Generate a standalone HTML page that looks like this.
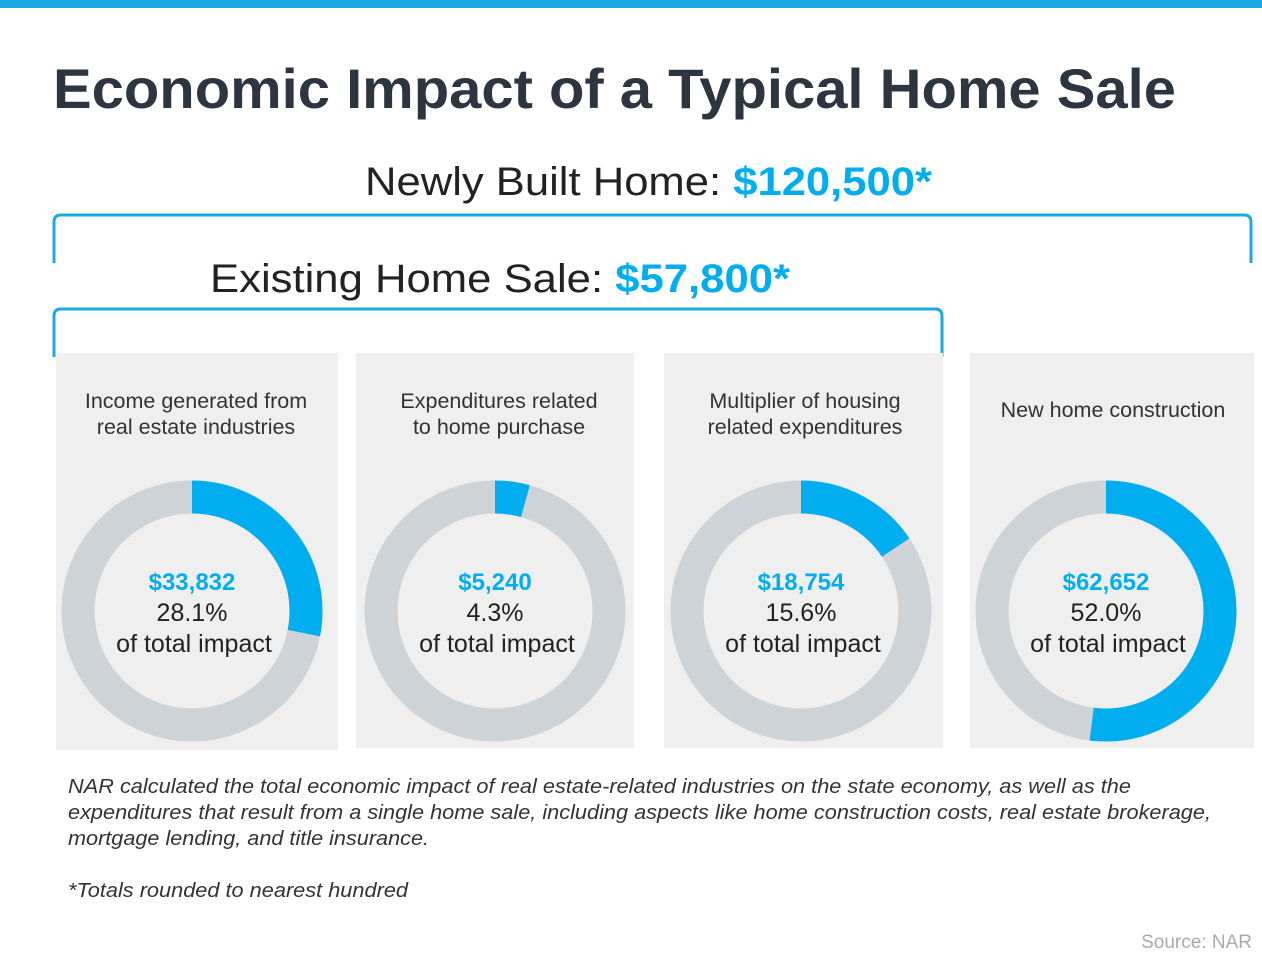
<!DOCTYPE html>
<html><head><meta charset="utf-8"><style>
html,body{margin:0;padding:0;background:#fff;width:1262px;height:972px;overflow:hidden}
svg{display:block;font-family:"Liberation Sans",Arial,sans-serif}
</style></head><body>
<svg id="chart" width="1262" height="972" viewBox="0 0 1262 972">
<rect x="0" y="0" width="1262" height="8" fill="#1ba9e6"/>
<text x="53" y="108" font-size="56" font-weight="bold" fill="#2d3640" textLength="1123" lengthAdjust="spacingAndGlyphs">Economic Impact of a Typical Home Sale</text>
<text x="365" y="195" font-size="40" fill="#222" textLength="567" lengthAdjust="spacingAndGlyphs">Newly Built Home: <tspan fill="#00aeef" font-weight="bold">$120,500*</tspan></text>
<path d="M54,263 L54,222 Q54,215 61,215 L1244,215 Q1251,215 1251,222 L1251,263" fill="none" stroke="#1ba9e6" stroke-width="3"/>
<text x="210" y="292" font-size="40" fill="#222" textLength="580" lengthAdjust="spacingAndGlyphs">Existing Home Sale: <tspan fill="#00aeef" font-weight="bold">$57,800*</tspan></text>
<path d="M54,357 L54,316 Q54,309 61,309 L935,309 Q942,309 942,316 L942,357" fill="none" stroke="#1ba9e6" stroke-width="3"/>
<g id="panels"></g>
<g fill="#333" font-size="20" font-style="italic">
<text x="68" y="793" textLength="1063" lengthAdjust="spacingAndGlyphs">NAR calculated the total economic impact of real estate-related industries on the state economy, as well as the</text>
<text x="68" y="819" textLength="1143" lengthAdjust="spacingAndGlyphs">expenditures that result from a single home sale, including aspects like home construction costs, real estate brokerage,</text>
<text x="68" y="845" textLength="361" lengthAdjust="spacingAndGlyphs">mortgage lending, and title insurance.</text>
<text x="68" y="897" textLength="340" lengthAdjust="spacingAndGlyphs">*Totals rounded to nearest hundred</text>
</g>
<text x="1252" y="948" font-size="19" fill="#aaa" text-anchor="end">Source: NAR</text>
</svg>
<script>
const categories1 = ["Income generated from","Expenditures related","Multiplier of housing","New home construction"];
const categories2 = ["real estate industries","to home purchase","related expenditures",""];
const dollarValues = ["$33,832","$5,240","$18,754","$62,652"];
const percentValues = [28.1,4.3,15.6,52.0];
const panelX = [56,356,664,970];
const panelW = [282,278,279,284];
const cx = [192,495,801,1106];
const NS="http://www.w3.org/2000/svg";
const g=document.getElementById('panels');
function mk(t,a,p){const e=document.createElementNS(NS,t);for(const k in a)e.setAttribute(k,a[k]);(p||g).appendChild(e);return e;}
const R=114, SW=33, cy=611;
function pt(frac){const a=frac*2*Math.PI;return [Math.sin(a)*R, -Math.cos(a)*R];}
percentValues.forEach((v,i)=>{
  const grp=mk('g',{});
  
  
  const bg=mk('rect',{x:panelX[i],y:353,width:panelW[i],height:i==0?397:395,fill:'#efefef'},grp);
  
  
  if(categories2[i]){
    const t1=mk('text',{x:cx[i]+4,y:408,'font-size':21.5,fill:'#333','text-anchor':'middle'},grp);t1.textContent=categories1[i];
    
    
    const t2=mk('text',{x:cx[i]+4,y:434,'font-size':21.5,fill:'#333','text-anchor':'middle'},grp);t2.textContent=categories2[i];
    
    
  } else {
    const t1=mk('text',{x:cx[i]+7,y:417,'font-size':21.5,fill:'#333','text-anchor':'middle'},grp);t1.textContent=categories1[i];
    
    
  }
  const ring=mk('circle',{cx:cx[i],cy:cy,r:R,fill:'none',stroke:'#cdd3d6','stroke-width':SW},grp);
  
  
  const f=v/100,[ex,ey]=pt(f);
  const arc=mk('path',{d:`M${cx[i]},${cy-R} A${R},${R} 0 ${f>0.5?1:0} 1 ${cx[i]+ex},${cy+ey}`,fill:'none',stroke:'#00aeef','stroke-width':SW},grp);
  
  
  const a=mk('text',{x:cx[i],y:590,'font-size':24,'font-weight':'bold',fill:'#00aeef','text-anchor':'middle'},grp);a.textContent=dollarValues[i];
  
  
  const b=mk('text',{x:cx[i],y:621,'font-size':25,fill:'#222','text-anchor':'middle'},grp);b.textContent=v.toFixed(1)+'%';
  
  
  const c=mk('text',{x:cx[i]+2,y:652,'font-size':25,fill:'#222','text-anchor':'middle'},grp);c.textContent='of total impact';
  
  
});
</script>
</body></html>
